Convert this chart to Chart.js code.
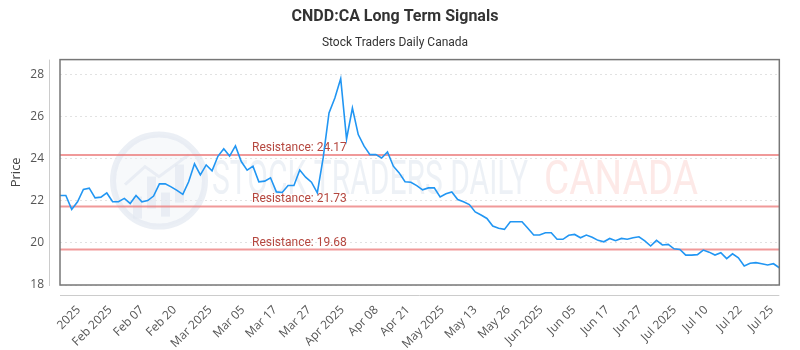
<!DOCTYPE html>
<html>
<head>
<meta charset="utf-8">
<script src="https://cdn.jsdelivr.net/npm/chart.js@4.4.0/dist/chart.umd.min.js"></script>
<style>
  html, body { margin: 0; padding: 0; background: #fff; }
  #wrap { width: 800px; height: 350px; }
</style>
</head>
<body>
<div id="wrap"><canvas id="chart"></canvas></div>
<script>
// closing prices, one per session
const prices = [
  22.25, 22.25, 21.59, 21.95, 22.54, 22.60, 22.14, 22.17, 22.37, 21.95,
  21.95, 22.11, 21.87, 22.25, 21.95, 22.01, 22.22, 22.80, 22.80, 22.66,
  22.49, 22.30, 22.90, 23.75, 23.23, 23.70, 23.42, 24.11, 24.47, 24.12,
  24.60, 23.86, 23.45, 23.64, 22.90, 22.93, 23.09, 22.42, 22.39, 22.72,
  22.72, 23.46, 23.12, 22.88, 22.37, 24.03, 26.17, 26.88, 27.80, 24.93,
  26.40, 25.14, 24.59, 24.19, 24.19, 24.03, 24.32, 23.64, 23.32, 22.90,
  22.88, 22.72, 22.52, 22.61, 22.61, 22.18, 22.33, 22.42, 22.06, 21.95,
  21.82, 21.47, 21.32, 21.16, 20.80, 20.69, 20.64, 21.00, 21.00, 21.00,
  20.69, 20.37, 20.37, 20.48, 20.48, 20.17, 20.17, 20.36, 20.40, 20.24,
  20.37, 20.27, 20.12, 20.05, 20.21, 20.10, 20.21, 20.17, 20.24, 20.29,
  20.09, 19.85, 20.12, 19.90, 19.93, 19.72, 19.69, 19.42, 19.42, 19.44,
  19.66, 19.56, 19.42, 19.53, 19.25, 19.48, 19.29, 18.90, 19.03, 19.06,
  19.01, 18.95, 19.01, 18.82
];

// where the date ticks fall, in session index units
const tickAt = [
  3.2, 8.6, 14.0, 19.6, 25.7, 31.3, 36.8, 42.6, 48.3, 54.1, 59.5,
  65.4, 71.0, 76.7, 82.3, 87.9, 93.6, 99.2, 105.1, 110.5, 116.3, 121.7
];
const tickLabels = [
  "2025", "Feb 2025", "Feb 07", "Feb 20", "Mar 2025", "Mar 05", "Mar 17", "Mar 27",
  "Apr 2025", "Apr 08", "Apr 21", "May 2025", "May 13", "May 26", "Jun 2025", "Jun 05",
  "Jun 17", "Jun 27", "Jul 2025", "Jul 10", "Jul 22", "Jul 25"
];

const resistance = [24.17, 21.73, 19.68];

const yTicks = [18, 20, 22, 24, 26, 28];

// watermark, resistance lines, frame
const decorations = {
  id: "decorations",
  beforeDatasetsDraw(chart) {
    const { ctx, chartArea: a, scales: { y } } = chart;
    ctx.save();

    // logo ring
    const cx = a.left + 99, cy = a.top + 121, r = 46;
    ctx.fillStyle = "rgba(238,242,247,0.45)";
    ctx.beginPath(); ctx.arc(cx, cy, r, 0, Math.PI * 2); ctx.fill();
    ctx.strokeStyle = "rgba(226,232,241,0.7)";
    ctx.lineWidth = 6;
    ctx.beginPath(); ctx.arc(cx, cy, r, 0, Math.PI * 2); ctx.stroke();
    ctx.fillStyle = "rgba(226,232,241,0.7)";
    [[-26, 8, 22], [-12, -2, 32], [2, 6, 24], [16, -8, 38]].forEach(([dx, dy, h]) => {
      ctx.fillRect(cx + dx, cy + dy + 30 - h, 9, h);
    });
    ctx.strokeStyle = "rgba(226,232,241,0.7)";
    ctx.lineWidth = 3;
    ctx.beginPath();
    ctx.moveTo(cx - 34, cy + 4); ctx.lineTo(cx - 14, cy - 14);
    ctx.lineTo(cx, cy - 4); ctx.lineTo(cx + 30, cy - 26);
    ctx.stroke();

    // watermark text, squeezed to width
    const drawSqueezed = (txt, x, w, color) => {
      ctx.font = "48px Roboto";
      const m = ctx.measureText(txt).width;
      ctx.save();
      ctx.translate(x, cy + 1);
      ctx.scale(w / m, 1);
      ctx.fillStyle = color;
      ctx.textBaseline = "middle";
      ctx.textAlign = "left";
      ctx.fillText(txt, 0, 0);
      ctx.restore();
    };
    drawSqueezed("STOCK TRADERS DAILY", a.left + 152, 316, "rgba(214,223,236,0.45)");
    drawSqueezed("CANADA", a.left + 484, 154, "rgba(250,200,195,0.4)");

    // resistance levels
    resistance.forEach(v => {
      const py = y.getPixelForValue(v);
      ctx.strokeStyle = "rgba(236,128,128,0.8)";
      ctx.lineWidth = 2;
      ctx.beginPath(); ctx.moveTo(a.left, py); ctx.lineTo(a.right, py); ctx.stroke();
      ctx.fillStyle = "#b5473f";
      ctx.font = "12px Roboto";
      ctx.textAlign = "left";
      ctx.textBaseline = "alphabetic";
      ctx.fillText("Resistance: " + v.toFixed(2), a.left + 192, py - 4);
    });
    ctx.restore();
  },
  afterDraw(chart) {
    const { ctx, chartArea: a } = chart;
    ctx.save();
    ctx.strokeStyle = "#777";
    ctx.lineWidth = 1.5;
    ctx.strokeRect(a.left, a.top, a.right - a.left, a.bottom - a.top);
    ctx.strokeStyle = "#ccc";
    ctx.lineWidth = 1;
    ctx.beginPath();
    ctx.moveTo(a.left - 10.5, a.top); ctx.lineTo(a.left - 10.5, a.bottom + 1);
    ctx.moveTo(a.left, a.bottom + 10.5); ctx.lineTo(a.right, a.bottom + 10.5);
    ctx.stroke();
    ctx.restore();
  }
};

new Chart(document.getElementById("chart"), {
  type: "line",
  data: {
    datasets: [{
      data: prices.map((v, i) => ({ x: i, y: v })),
      borderColor: "#2196f3",
      borderWidth: 1.6,
      pointRadius: 0,
      tension: 0,
      fill: false
    }]
  },
  plugins: [decorations],
  options: {
    responsive: true,
    maintainAspectRatio: false,
    animation: false,
    layout: { padding: { right: 10, bottom: 0 } },
    plugins: {
      legend: { display: false },
      tooltip: { enabled: false },
      title: {
        display: true,
        text: "CNDD:CA Long Term Signals",
        color: "#333",
        font: { family: "Roboto", size: 16, weight: "bold" },
        padding: { top: 7, bottom: 10 }
      },
      subtitle: {
        display: true,
        text: "Stock Traders Daily Canada",
        color: "#333",
        font: { family: "Roboto", size: 12 },
        padding: { top: 0, bottom: 9 }
      }
    },
    scales: {
      x: {
        type: "linear",
        min: 0,
        max: prices.length - 1,
        border: { display: false },
        grid: { display: false, drawTicks: false },
        afterBuildTicks: (s) => { s.ticks = tickAt.map(v => ({ value: v })); },
        afterFit: (s) => { s.height = 65; },
        ticks: {
          autoSkip: false,
          minRotation: 45,
          maxRotation: 45,
          padding: 18,
          color: "#555",
          font: { family: "Open Sans", size: 12 },
          callback: (v, i) => tickLabels[i]
        }
      },
      y: {
        min: 18,
        max: 28.7,
        border: { display: false, dash: [2, 3] },
        grid: { color: "#e2e2e2", drawTicks: false },
        afterBuildTicks: (s) => { s.ticks = yTicks.map(v => ({ value: v })); },
        afterFit: (s) => { s.width = 60; },
        ticks: {
          padding: 16,
          color: "#555",
          font: { family: "Open Sans", size: 12 }
        },
        title: {
          display: true,
          text: "Price",
          color: "#444",
          font: { family: "Open Sans", size: 13 },
          padding: { top: 8, bottom: 0 }
        }
      }
    }
  }
});
</script>
</body>
</html>
